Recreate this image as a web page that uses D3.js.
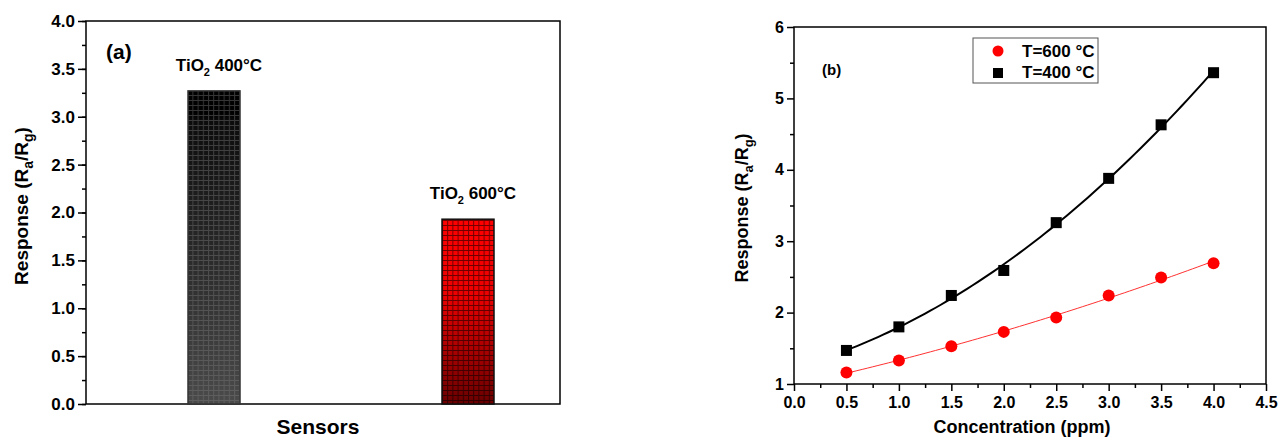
<!DOCTYPE html>
<html>
<head>
<meta charset="utf-8">
<script src="https://cdn.jsdelivr.net/npm/d3@7"></script>
<style>
  body { margin: 0; background: #fff; }
  svg { display: block; font-family: "Liberation Sans", Arial, sans-serif; font-weight: bold; }
</style>
</head>
<body>
<svg width="1288" height="441"></svg>
<script>
// panel (a): response of the two sensors
var sensors = ["TiO2 400°C", "TiO2 600°C"];
var sensorResponse = [3.27, 1.93];
var yTicksA = [0, 0.5, 1, 1.5, 2, 2.5, 3, 3.5, 4];

// panel (b): response vs concentration
var concentration = [0.5, 1.0, 1.5, 2.0, 2.5, 3.0, 3.5, 4.0];
var resp600 = [1.16, 1.33, 1.53, 1.73, 1.93, 2.24, 2.49, 2.69];
var resp400 = [1.47, 1.80, 2.24, 2.59, 3.26, 3.88, 4.63, 5.36];
var xTicksB = [0, 0.5, 1, 1.5, 2, 2.5, 3, 3.5, 4, 4.5];
var yTicksB = [1, 2, 3, 4, 5, 6];
var legendLabels = ["T=600 °C", "T=400 °C"];

var svg = d3.select("svg");
var defs = svg.append("defs");

function gradient(id, stops) {
  var g = defs.append("linearGradient").attr("id", id)
    .attr("x1", 0).attr("y1", 0).attr("x2", 0).attr("y2", 1);
  stops.forEach(function(s) {
    g.append("stop").attr("offset", s[0]).attr("stop-color", s[1]);
  });
}
gradient("gBlack", [[0, "#000"], [0.07, "#000"], [0.1, "#0c0c0c"], [1, "#4a4a4a"]]);
gradient("gRed", [[0, "#ff0000"], [0.4, "#ee0000"], [1, "#6a0000"]]);

function grid(id, color) {
  var p = defs.append("pattern").attr("id", id)
    .attr("patternUnits", "userSpaceOnUse")
    .attr("width", 5.2).attr("height", 5);
  p.append("path").attr("d", "M0,0.5H5.2M0.5,0V5")
    .attr("stroke", color).attr("stroke-width", 1).attr("fill", "none");
}
grid("pBlack", "rgba(120,120,120,0.45)");
grid("pRed", "rgba(0,0,0,0.55)");

// ---------- panel (a) ----------
var ax = { left: 86, right: 560, top: 21, bottom: 404 };

var xA = d3.scalePoint().domain(sensors).range([214, 468]);
var yA = d3.scaleLinear().domain([0, 4]).range([ax.bottom, ax.top]);

var gA = svg.append("g");

gA.append("g")
  .attr("transform", "translate(" + ax.left + ",0)")
  .call(d3.axisLeft(yA).tickValues(d3.range(0, 4.01, 0.25)).tickSize(4).tickFormat(""))
  .call(function(g) { g.select(".domain").remove(); });

gA.append("g")
  .attr("transform", "translate(" + ax.left + ",0)")
  .call(d3.axisLeft(yA).tickValues(yTicksA).tickSize(8).tickFormat(d3.format(".1f")))
  .call(function(g) {
    g.select(".domain").remove();
    g.selectAll("text").attr("font-size", 17).attr("font-weight", "bold")
      .attr("font-family", "Liberation Sans, Arial, sans-serif").attr("fill", "#000").attr("x", -11);
  });
gA.selectAll(".tick line").attr("stroke", "#000").attr("stroke-width", 1.5);

gA.append("rect")
  .attr("x", ax.left).attr("y", ax.top)
  .attr("width", ax.right - ax.left).attr("height", ax.bottom - ax.top)
  .attr("fill", "none").attr("stroke", "#000").attr("stroke-width", 1.5);

var barW = 52;
var fills = [["gBlack", "pBlack"], ["gRed", "pRed"]];
var bars = gA.selectAll(".bar").data(sensors).enter().append("g").attr("class", "bar");
bars.append("rect")
  .attr("x", function(d) { return xA(d) - barW / 2; })
  .attr("y", function(d, i) { return yA(sensorResponse[i]); })
  .attr("width", barW)
  .attr("height", function(d, i) { return ax.bottom - yA(sensorResponse[i]); })
  .attr("fill", function(d, i) { return "url(#" + fills[i][0] + ")"; });
bars.append("rect")
  .attr("x", function(d) { return xA(d) - barW / 2; })
  .attr("y", function(d, i) { return yA(sensorResponse[i]); })
  .attr("width", barW)
  .attr("height", function(d, i) { return ax.bottom - yA(sensorResponse[i]); })
  .attr("fill", function(d, i) { return "url(#" + fills[i][1] + ")"; })
  .attr("stroke", function(d, i) { return i ? "#111" : "#333"; })
  .attr("stroke-width", 1.5);

// bar labels with subscript
bars.append("text")
  .attr("x", function(d) { return xA(d) + 5; })
  .attr("y", function(d, i) { return yA(sensorResponse[i]) - 20; })
  .attr("text-anchor", "middle")
  .attr("font-size", 17)
  .each(function(d) {
    var t = d3.select(this);
    t.append("tspan").text("TiO");
    t.append("tspan").attr("font-size", 11).attr("dy", 5).text("2");
    t.append("tspan").attr("dy", -5).text(" " + d.split(" ")[1]);
  });

gA.append("text").attr("x", 106).attr("y", 59).attr("font-size", 21).text("(a)");

gA.append("text")
  .attr("x", 318).attr("y", 434)
  .attr("text-anchor", "middle").attr("font-size", 21).text("Sensors");

var ytA = gA.append("text")
  .attr("transform", "translate(28," + 206 + ") rotate(-90)")
  .attr("text-anchor", "middle").attr("font-size", 19);
ytA.append("tspan").text("Response (R");
ytA.append("tspan").attr("font-size", 14).attr("dy", 5).text("a");
ytA.append("tspan").attr("dy", -5).text("/R");
ytA.append("tspan").attr("font-size", 14).attr("dy", 5).text("g");
ytA.append("tspan").attr("dy", -5).text(")");

// ---------- panel (b) ----------
var bx = { left: 794, right: 1266, top: 27, bottom: 384 };
var xB = d3.scaleLinear().domain([0, 4.5]).range([bx.left, bx.right]);
var yB = d3.scaleLinear().domain([1, 6]).range([bx.bottom, bx.top]);

var gB = svg.append("g");

function styleAxis(g) {
  g.select(".domain").remove();
  g.selectAll("line").attr("stroke", "#000").attr("stroke-width", 1.5);
  g.selectAll("text").attr("font-size", 16).attr("font-weight", "bold")
    .attr("font-family", "Liberation Sans, Arial, sans-serif").attr("fill", "#000");
}

gB.append("g").attr("transform", "translate(0," + bx.bottom + ")")
  .call(d3.axisBottom(xB).tickValues(d3.range(0.25, 4.5, 0.5)).tickSize(4).tickFormat(""))
  .call(styleAxis);
gB.append("g").attr("transform", "translate(0," + bx.bottom + ")")
  .call(d3.axisBottom(xB).tickValues(xTicksB).tickSize(7).tickFormat(d3.format(".1f")))
  .call(styleAxis)
  .call(function(g) { g.selectAll("text").attr("y", 13); });
gB.append("g").attr("transform", "translate(" + bx.left + ",0)")
  .call(d3.axisLeft(yB).tickValues(d3.range(1.5, 6, 1)).tickSize(4).tickFormat(""))
  .call(styleAxis);
gB.append("g").attr("transform", "translate(" + bx.left + ",0)")
  .call(d3.axisLeft(yB).tickValues(yTicksB).tickSize(7).tickFormat(d3.format("d")))
  .call(styleAxis)
  .call(function(g) { g.selectAll("text").attr("x", -10); });

gB.append("rect")
  .attr("x", bx.left).attr("y", bx.top)
  .attr("width", bx.right - bx.left).attr("height", bx.bottom - bx.top)
  .attr("fill", "none").attr("stroke", "#000").attr("stroke-width", 1.5);

// least-squares quadratic fit through the measured points
function quadFit(xs, ys) {
  var n = xs.length, s = [0, 0, 0, 0, 0], t = [0, 0, 0];
  for (var i = 0; i < n; i++) {
    var x = xs[i], y = ys[i];
    for (var k = 0; k < 5; k++) s[k] += Math.pow(x, k);
    for (var k2 = 0; k2 < 3; k2++) t[k2] += y * Math.pow(x, k2);
  }
  var M = [[s[0], s[1], s[2], t[0]], [s[1], s[2], s[3], t[1]], [s[2], s[3], s[4], t[2]]];
  for (var c = 0; c < 3; c++) {
    for (var r = c + 1; r < 3; r++) {
      var f = M[r][c] / M[c][c];
      for (var j = c; j < 4; j++) M[r][j] -= f * M[c][j];
    }
  }
  var co = [0, 0, 0];
  for (var r2 = 2; r2 >= 0; r2--) {
    var v = M[r2][3];
    for (var j2 = r2 + 1; j2 < 3; j2++) v -= M[r2][j2] * co[j2];
    co[r2] = v / M[r2][r2];
  }
  return function(x) { return co[0] + co[1] * x + co[2] * x * x; };
}

var xs = d3.range(0.5, 4.001, 0.05);
var line = d3.line().x(function(d) { return xB(d[0]); }).y(function(d) { return yB(d[1]); });
var f600 = quadFit(concentration, resp600);
var f400 = quadFit(concentration, resp400);

gB.append("path").attr("d", line(xs.map(function(x) { return [x, f600(x)]; })))
  .attr("fill", "none").attr("stroke", "#ff3030").attr("stroke-width", 1);
gB.append("path").attr("d", line(xs.map(function(x) { return [x, f400(x)]; })))
  .attr("fill", "none").attr("stroke", "#000").attr("stroke-width", 2);

gB.selectAll(".pt600").data(concentration).enter().append("circle")
  .attr("cx", function(d) { return xB(d); })
  .attr("cy", function(d, i) { return yB(resp600[i]); })
  .attr("r", 6).attr("fill", "#ff0000");
gB.selectAll(".pt400").data(concentration).enter().append("rect")
  .attr("x", function(d) { return xB(d) - 5.5; })
  .attr("y", function(d, i) { return yB(resp400[i]) - 5.5; })
  .attr("width", 11).attr("height", 11).attr("fill", "#000");

gB.append("text").attr("x", 822).attr("y", 75).attr("font-size", 15).text("(b)");

// legend
var lg = gB.append("g");
lg.append("rect").attr("x", 973).attr("y", 38).attr("width", 125).attr("height", 45)
  .attr("fill", "#fff").attr("stroke", "#555").attr("stroke-width", 1);
lg.append("circle").attr("cx", 998).attr("cy", 51).attr("r", 5.5).attr("fill", "#ff0000");
lg.append("rect").attr("x", 993).attr("y", 68).attr("width", 10).attr("height", 10).attr("fill", "#000");
lg.selectAll(".lt").data(legendLabels).enter().append("text")
  .attr("x", 1022).attr("y", function(d, i) { return 57 + i * 21; })
  .attr("font-size", 17).text(function(d) { return d; });

gB.append("text")
  .attr("x", 1022).attr("y", 433)
  .attr("text-anchor", "middle").attr("font-size", 18).text("Concentration (ppm)");

var ytB = gB.append("text")
  .attr("transform", "translate(748," + 208 + ") rotate(-90)")
  .attr("text-anchor", "middle").attr("font-size", 18);
ytB.append("tspan").text("Response (R");
ytB.append("tspan").attr("font-size", 13).attr("dy", 5).text("a");
ytB.append("tspan").attr("dy", -5).text("/R");
ytB.append("tspan").attr("font-size", 13).attr("dy", 5).text("g");
ytB.append("tspan").attr("dy", -5).text(")");
</script>
</body>
</html>
